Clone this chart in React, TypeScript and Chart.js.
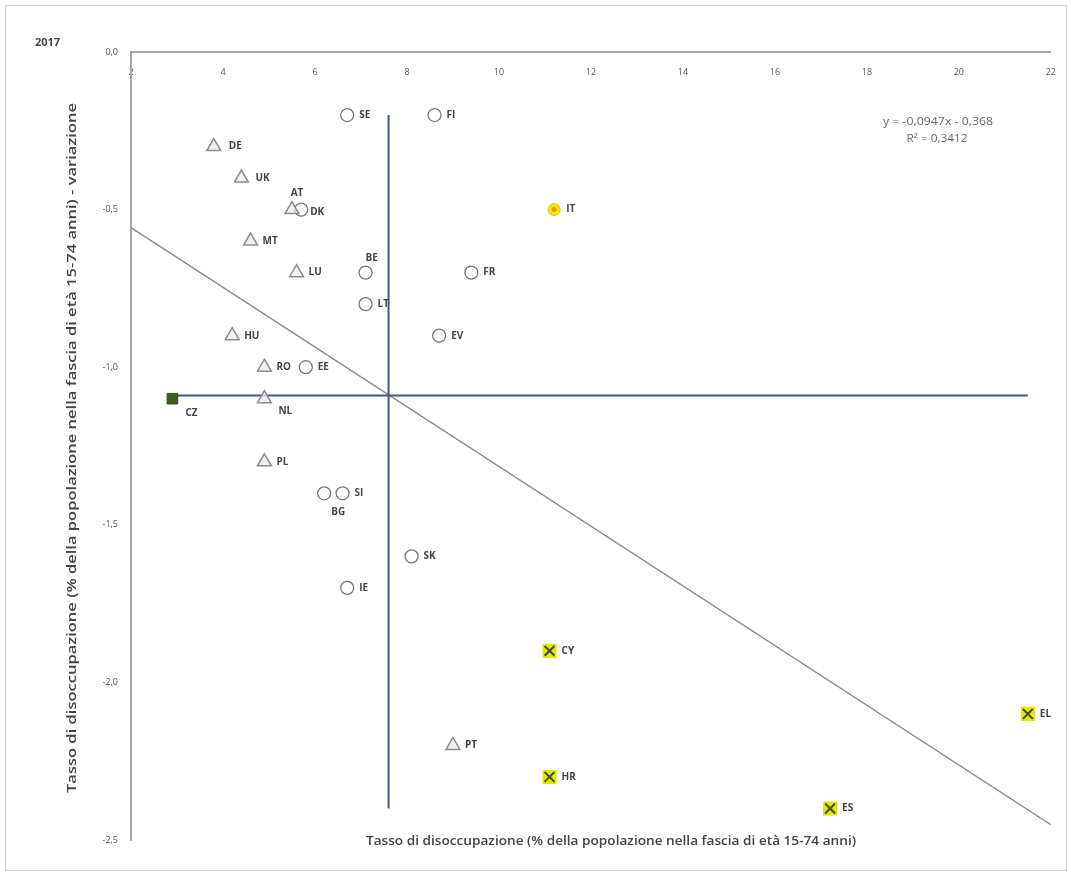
import React, { useEffect, useRef } from "react";
import { Chart, registerables } from "chart.js";

Chart.register(...registerables);

// ---------- DATA ----------
const countries = ["SE", "FI", "DE", "UK", "AT", "DK", "MT", "LU", "BE", "LT", "IT", "FR", "EV", "HU", "RO", "EE", "CZ", "NL", "PL", "BG", "SI", "SK", "IE", "CY", "PT", "HR", "ES", "EL"];
const unemployment = [6.7, 8.6, 3.8, 4.4, 5.5, 5.7, 4.6, 5.6, 7.1, 7.1, 11.2, 9.4, 8.7, 4.2, 4.9, 5.8, 2.9, 4.9, 4.9, 6.2, 6.6, 8.1, 6.7, 11.1, 9.0, 11.1, 17.2, 21.5];
const change = [-0.2, -0.2, -0.3, -0.4, -0.5, -0.5, -0.6, -0.7, -0.7, -0.8, -0.5, -0.7, -0.9, -0.9, -1.0, -1.0, -1.1, -1.1, -1.3, -1.4, -1.4, -1.6, -1.7, -1.9, -2.2, -2.3, -2.4, -2.1];
// marker group: tri = triangle, circ = open circle, yx = yellow X, yc = yellow circle, green = green square
const groups = ["circ", "circ", "tri", "tri", "tri", "circ", "tri", "tri", "circ", "circ", "yc", "circ", "circ", "tri", "tri", "circ", "green", "tri", "tri", "circ", "circ", "circ", "circ", "yx", "tri", "yx", "yx", "yx"];

const xTicks = [2, 4, 6, 8, 10, 12, 14, 16, 18, 20, 22];
const yTicks = [0, -0.5, -1.0, -1.5, -2.0, -2.5];
const yTickLabels = ["0,0", "-0,5", "-1,0", "-1,5", "-2,0", "-2,5"];

const avgUnemployment = 7.6;
const avgChange = -1.09;
const trendSlope = -0.0947;
const trendIntercept = -0.368;
const rSquared = 0.3412;

const yearLabel = "2017";
const xTitle = "Tasso di disoccupazione (% della popolazione nella fascia di età 15-74 anni)";
const yTitle = "Tasso di disoccupazione (% della popolazione nella fascia di età 15-74 anni) - variazione";

// label placement exceptions (style only): [align, dx, dy]
const labelPlacement: Record<string, [CanvasTextAlign, number, number]> = {
  AT: ["center", 5, -16],
  BE: ["left", 0, -14],
  DK: ["left", 9, 3],
  CZ: ["left", 13, 14],
  NL: ["left", 14, 12],
  BG: ["center", 14, 19],
  DE: ["left", 15, 0],
  UK: ["left", 14, 0],
};

const fmt = (v: number, d: number) => v.toFixed(d).replace(".", ",");

function pick(g: string) {
  const out: { x: number; y: number }[] = [];
  groups.forEach((gr, i) => {
    if (gr === g) out.push({ x: unemployment[i], y: change[i] });
  });
  return out;
}

function fitText(ctx: CanvasRenderingContext2D, text: string, cx: number, cy: number, width: number) {
  const w = ctx.measureText(text).width;
  ctx.save();
  ctx.translate(cx, cy);
  ctx.scale(width / w, 1);
  ctx.textAlign = "center";
  ctx.fillText(text, 0, 0);
  ctx.restore();
}

export default function App() {
  const ref = useRef<HTMLCanvasElement | null>(null);

  useEffect(() => {
    if (!ref.current) return;
    const minX = Math.min(...unemployment);
    const maxX = Math.max(...unemployment);
    const minY = Math.min(...change);
    const maxY = Math.max(...change);

    const textPlugin = {
      id: "texts",
      afterDatasetsDraw(chart: any) {
        const ctx = chart.ctx;
        const xs = chart.scales.x;
        const ys = chart.scales.y;
        ctx.save();
        ctx.fillStyle = "#444";
        ctx.font = "bold 10px 'Open Sans'";
        ctx.textBaseline = "middle";
        countries.forEach((c, i) => {
          const px = xs.getPixelForValue(unemployment[i]);
          const py = ys.getPixelForValue(change[i]);
          const pl = labelPlacement[c] || ["left", 12, 0];
          ctx.textAlign = pl[0];
          ctx.fillText(c, px + pl[1], py + pl[2]);
        });
        ctx.restore();
      },
      afterDraw(chart: any) {
        const ctx = chart.ctx;
        ctx.save();
        // frame
        ctx.strokeStyle = "#d0d0d0";
        ctx.lineWidth = 1;
        ctx.strokeRect(5.5, 5.5, 1061, 865);
        // year
        ctx.fillStyle = "#444";
        ctx.font = "bold 11px 'Open Sans'";
        ctx.textAlign = "left";
        ctx.textBaseline = "middle";
        ctx.fillText(yearLabel, 35, 43);
        // equation
        ctx.fillStyle = "#666";
        ctx.font = "11px 'Open Sans'";
        fitText(ctx, "y = " + fmt(trendSlope, 4) + "x - " + fmt(Math.abs(trendIntercept), 3), 938, 122, 110);
        fitText(ctx, "R² = " + fmt(rSquared, 4), 937, 139, 61);
        // x title
        ctx.fillStyle = "#444";
        ctx.font = "600 12.5px 'Open Sans'";
        fitText(ctx, xTitle, 611, 841, 490);
        // y title
        ctx.translate(72, 448);
        ctx.rotate(-Math.PI / 2);
        ctx.font = "600 12.5px 'Open Sans'";
        fitText(ctx, yTitle, 0, 0, 690);
        ctx.restore();
      },
    };

    const chart = new Chart(ref.current, {
      type: "scatter",
      data: {
        datasets: [
          {
            label: "yellowX",
            data: pick("yx"),
            pointStyle: "crossRot",
            pointRadius: 7,
            borderColor: "#3b5323",
            borderWidth: 2,
            backgroundColor: "#3b5323",
            order: 0,
          },
          {
            label: "yellowBox",
            data: pick("yx"),
            pointStyle: "rect",
            pointRadius: 10,
            borderWidth: 0,
            backgroundColor: "#e6e600",
            borderColor: "#e6e600",
            order: 1,
          },
          {
            label: "ITdot",
            data: pick("yc"),
            pointStyle: "circle",
            pointRadius: 2.5,
            borderWidth: 0,
            backgroundColor: "#d99a00",
            order: 0,
          },
          {
            label: "IT",
            data: pick("yc"),
            pointStyle: "circle",
            pointRadius: 6,
            borderWidth: 1,
            borderColor: "#d8c800",
            backgroundColor: "#f0e800",
            order: 1,
          },
          {
            label: "CZ",
            data: pick("green"),
            pointStyle: "rect",
            pointRadius: 7.5,
            borderWidth: 1,
            borderColor: "#33501a",
            backgroundColor: "#3e5c1e",
            order: 1,
          },
          {
            label: "triangles",
            data: pick("tri"),
            pointStyle: "triangle",
            pointRadius: 8,
            borderWidth: 1.5,
            borderColor: "#8c8c8c",
            backgroundColor: "rgba(235,235,235,0.7)",
            order: 1,
          },
          {
            label: "circles",
            data: pick("circ"),
            pointStyle: "circle",
            pointRadius: 6.5,
            borderWidth: 1.3,
            borderColor: "#777",
            backgroundColor: "#fff",
            order: 1,
          },
          {
            label: "avgX",
            data: [
              { x: avgUnemployment, y: maxY },
              { x: avgUnemployment, y: minY },
            ],
            showLine: true,
            pointRadius: 0,
            borderColor: "#46587a",
            borderWidth: 2,
            order: 5,
          },
          {
            label: "avgY",
            data: [
              { x: minX, y: avgChange },
              { x: maxX, y: avgChange },
            ],
            showLine: true,
            pointRadius: 0,
            borderColor: "#46587a",
            borderWidth: 2,
            order: 5,
          },
          {
            label: "trend",
            data: [
              { x: xTicks[0], y: trendSlope * xTicks[0] + trendIntercept },
              { x: xTicks[xTicks.length - 1], y: trendSlope * xTicks[xTicks.length - 1] + trendIntercept },
            ],
            showLine: true,
            pointRadius: 0,
            borderColor: "#8c8c8c",
            borderWidth: 1.5,
            order: 6,
          },
        ],
      },
      options: {
        animation: false,
        responsive: false,
        devicePixelRatio: 1,
        layout: { padding: { left: 0, top: 52, right: 19, bottom: 33 } },
        plugins: { legend: { display: false }, tooltip: { enabled: false }, title: { display: false } },
        scales: {
          x: {
            type: "linear",
            position: { y: 0 } as any,
            min: xTicks[0],
            max: xTicks[xTicks.length - 1],
            afterBuildTicks: (s: any) => {
              s.ticks = xTicks.map((v) => ({ value: v }));
            },
            grid: { display: false, drawTicks: false },
            border: { display: true, color: "#a6a6a6", width: 2 },
            ticks: {
              padding: 15,
              color: "#555",
              font: { family: "'Open Sans'", size: 9 },
              maxRotation: 0,
              callback: (v: any) => String(v),
            },
          },
          y: {
            type: "linear",
            position: "left",
            min: yTicks[yTicks.length - 1],
            max: yTicks[0],
            afterBuildTicks: (s: any) => {
              s.ticks = yTicks.map((v) => ({ value: v }));
            },
            afterFit: (s: any) => {
              s.width = 131;
            },
            grid: { display: false, drawTicks: false },
            border: { display: true, color: "#a6a6a6", width: 2 },
            ticks: {
              padding: 13,
              color: "#555",
              font: { family: "'Open Sans'", size: 9 },
              callback: (v: any) => {
                const i = yTicks.findIndex((t) => Math.abs(t - v) < 1e-9);
                return i >= 0 ? yTickLabels[i] : "";
              },
            },
          },
        },
      },
      plugins: [textPlugin],
    } as any);
    return () => chart.destroy();
  }, []);

  return (
    <div style={{ position: "fixed", left: 0, top: 0, width: 1071, height: 873, background: "#fff" }}>
      <canvas ref={ref} width={1071} height={873} style={{ width: 1071, height: 873, display: "block" }} />
    </div>
  );
}
